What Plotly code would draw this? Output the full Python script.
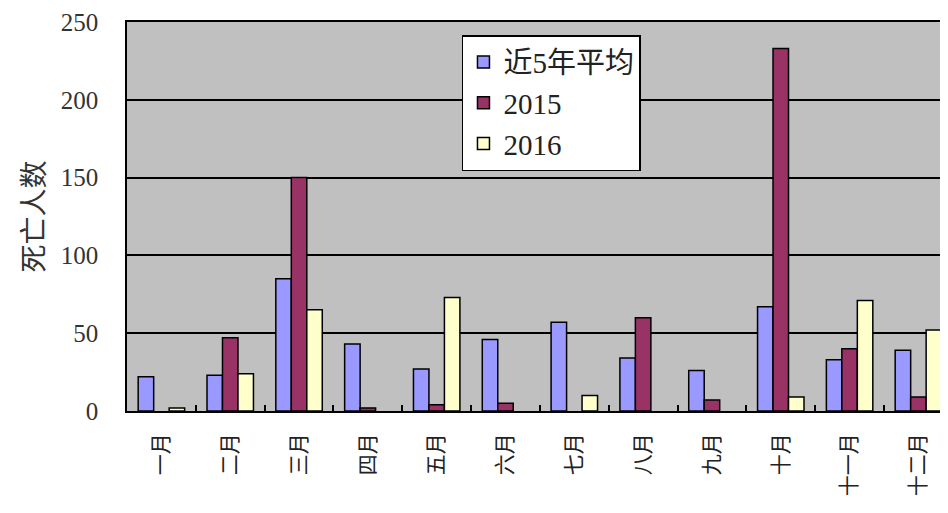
import plotly.graph_objects as go

months = ["一月", "二月", "三月", "四月", "五月", "六月", "七月", "八月", "九月", "十月", "十一月", "十二月"]
avg5 = [22, 23, 85, 43, 27, 46, 57, 34, 26, 67, 33, 39]
y2015 = [0, 47, 150, 2, 4, 5, 0, 60, 7, 233, 40, 9]
y2016 = [2, 24, 65, 0, 73, 0, 10, 0, 0, 9, 71, 52]
series_names = ["近5年平均", "2015", "2016"]
colors = ["#9999FF", "#993366", "#FFFFCC"]
y_ticks = [0, 50, 100, 150, 200, 250]

serif = "Liberation Serif, Noto Sans CJK SC, serif"

fig = go.Figure()
for name, vals, col in zip(series_names, [avg5, y2015, y2016], colors):
    fig.add_trace(go.Bar(
        x=months, y=[v if v else None for v in vals], name=name, legendgroup=name,
        marker=dict(color=col, line=dict(color="black", width=1.5)),
    ))

fig.update_layout(
    width=940, height=505,
    margin=dict(l=119, r=0, t=14, b=102, autoexpand=False),
    paper_bgcolor="white",
    plot_bgcolor="#C0C0C0",
    barmode="group",
    bargap=0.325,
    bargroupgap=0,
    font=dict(family=serif, color="black", size=26),
    legend=dict(
        x=0.408, y=0.966, xanchor="left", yanchor="top",
        bgcolor="white", bordercolor="black", borderwidth=1.5,
        font=dict(family=serif, size=29, color="#222"),
        tracegroupgap=2,
        traceorder="normal",
    ),
    xaxis=dict(
        range=[-0.5, 11.43],
        automargin=False,
        tickangle=-90,
        ticks="inside", tickson="boundaries", ticklen=6, tickcolor="black", tickwidth=1.5,
        tickfont=dict(family="Noto Sans CJK SC", size=21, color="#222"),
        ticklabelstandoff=12,
        showline=True, linecolor="black", linewidth=1.5, mirror=True,
        showgrid=False,
    ),
    yaxis=dict(
        range=[0, 250],
        automargin=False,
        tickvals=y_ticks,
        ticklabeloverflow="allow",
        showgrid=True, gridcolor="black", gridwidth=1.5,
        showline=True, linecolor="black", linewidth=1.5, mirror=True,
        tickfont=dict(family=serif, size=25, color="#333"),
        ticklabelstandoff=22,
        zeroline=False,
        title=dict(text="死亡人数", font=dict(family="Noto Sans CJK SC", size=28, color="#333"), standoff=8),
    ),
)

fig.write_html("out.html")
